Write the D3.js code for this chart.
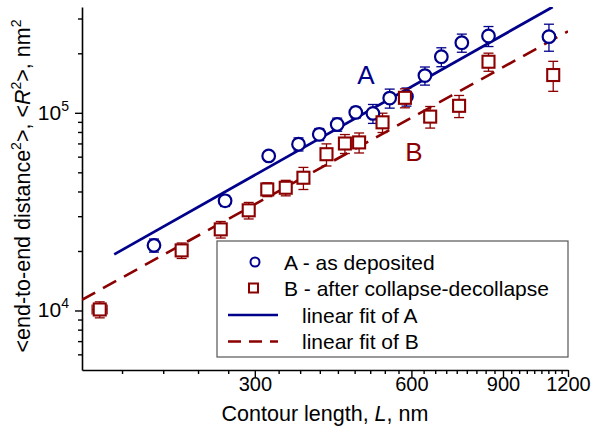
<!DOCTYPE html>
<html>
<head>
<meta charset="utf-8">
<script src="https://cdn.jsdelivr.net/npm/d3@7"></script>
<style>
body { margin: 0; background: #fff; }
text { font-family: "Liberation Sans", Arial, sans-serif; }
</style>
</head>
<body>
<svg id="chart" width="595" height="441"></svg>
<script>
// series A - as deposited
var lengthA = [192, 263, 319, 364, 399, 432, 469, 506, 545, 587, 637, 685, 750, 844, 1103];
var r2A     = [21360, 35890, 60540, 69390, 77830, 87340, 100470, 99300, 118700, 120800, 154300, 192200, 226300, 244800, 242800];
var errA    = [1620, 2300, 2120, 5270, 5450, 6640, 6430, 10900, 13100, 12700, 16200, 21100, 23800, 28400, 37900];

// series B - after collapse-decollapse
var lengthB = [151, 217, 258, 292, 317, 344, 372, 412, 447, 476, 528, 583, 652, 741, 844, 1124];
var r2B     = [10120, 20140, 25730, 32120, 40960, 41780, 46940, 61740, 69950, 70850, 89530, 119100, 95660, 108500, 181300, 155300];
var errB    = [940, 1810, 2470, 3080, 3280, 3760, 6010, 7900, 7690, 8220, 10030, 13100, 11960, 13890, 19040, 26870];
var xErrB   = [5, 0, 0, 0, 0, 0, 0, 0, 0, 0, 0, 0, 0, 0, 0, 0];

// linear fits (log-log) end points
var fitAx = [161, 1121];
var fitAy = [19230, 343000];
var fitBx = [139.6, 1200];
var fitBy = [11330, 258500];

var xTicks = [300, 600, 900, 1200];
var yTicks = [1e4, 1e5];

var navy = "#00008b", darkRed = "#8b0000";

var margin = { top: 7, right: 27, bottom: 71, left: 82 };
var svg = d3.select("#chart");
var w = 595 - margin.left - margin.right,
    h = 441 - margin.top - margin.bottom;

var x = d3.scaleLog().domain([139.6, 1200]).range([0, w]);
var y = d3.scaleLog().domain([5000, 343000]).range([h, 0]);

var g = svg.append("g").attr("transform", "translate(" + margin.left + "," + margin.top + ")");

svg.append("defs").append("clipPath").attr("id", "clip")
    .append("rect").attr("width", w).attr("height", h);

// minor tick positions
var xMinor = d3.range(166.67, 1200, 33.333).filter(function (v) {
    return Math.abs(v / 300 - Math.round(v / 300)) > 0.01;
});
var yMinor = [6e3, 7e3, 8e3, 9e3, 2e4, 3e4, 4e4, 5e4, 6e4, 7e4, 8e4, 9e4, 2e5, 3e5];

// axes
g.append("g").attr("transform", "translate(0," + h + ")")
    .call(d3.axisBottom(x).tickValues(xMinor).tickSize(4).tickFormat(""))
    .call(function (a) { a.select(".domain").remove(); });
var xa = g.append("g").attr("transform", "translate(0," + h + ")")
    .call(d3.axisBottom(x).tickValues(xTicks).tickSize(7).tickSizeOuter(0).tickFormat(d3.format("d")));
xa.selectAll("text").attr("font-size", "20px").attr("fill", "#000").attr("dy", "0.55em")
    .style("font-family", "'Liberation Sans', Arial, sans-serif");

g.append("g")
    .call(d3.axisLeft(y).tickValues(yMinor).tickSize(4).tickFormat(""))
    .call(function (a) { a.select(".domain").remove(); });
var ya = g.append("g")
    .call(d3.axisLeft(y).tickValues(yTicks).tickSize(7).tickSizeOuter(0).tickFormat(""));

g.selectAll(".tick line").attr("stroke", "#000").attr("stroke-width", 1.4);
g.selectAll(".domain").attr("stroke", "#000").attr("stroke-width", 1.6);

// y tick labels as 10 with superscript
yTicks.forEach(function (t) {
    var lab = g.append("text").attr("x", -13).attr("y", y(t) + 7)
        .attr("text-anchor", "end").attr("font-size", "21px");
    lab.append("tspan").text("10");
    lab.append("tspan").attr("dy", -9).attr("font-size", "14px").text(Math.round(Math.log10(t)));
});

// fit lines
var lineGen = d3.line().x(function (d) { return x(d[0]); }).y(function (d) { return y(d[1]); });
var plot = g.append("g").attr("clip-path", "url(#clip)");

plot.append("path").datum(d3.zip(fitAx, fitAy)).attr("d", lineGen)
    .attr("fill", "none").attr("stroke", navy).attr("stroke-width", 2.8);
plot.append("path").datum(d3.zip(fitBx, fitBy)).attr("d", lineGen)
    .attr("fill", "none").attr("stroke", darkRed).attr("stroke-width", 2.6)
    .attr("stroke-dasharray", "15,9");

// error bars
function errorBars(xs, ys, es, color) {
    var eb = g.append("g").attr("stroke", color).attr("stroke-width", 1.3);
    xs.forEach(function (xv, i) {
        var px = x(xv), top = y(ys[i] + es[i]), bot = y(ys[i] - es[i]);
        eb.append("line").attr("x1", px).attr("x2", px).attr("y1", top).attr("y2", bot);
        eb.append("line").attr("x1", px - 5).attr("x2", px + 5).attr("y1", top).attr("y2", top);
        eb.append("line").attr("x1", px - 5).attr("x2", px + 5).attr("y1", bot).attr("y2", bot);
    });
}
errorBars(lengthA, r2A, errA, navy);
errorBars(lengthB, r2B, errB, darkRed);

// horizontal error bars for B
var hb = g.append("g").attr("stroke", darkRed).attr("stroke-width", 1.3);
xErrB.forEach(function (e, i) {
    if (!e) return;
    var py = y(r2B[i]), l = x(lengthB[i] - e), r = x(lengthB[i] + e);
    hb.append("line").attr("x1", l).attr("x2", r).attr("y1", py).attr("y2", py);
    hb.append("line").attr("x1", l).attr("x2", l).attr("y1", py - 5).attr("y2", py + 5);
    hb.append("line").attr("x1", r).attr("x2", r).attr("y1", py - 5).attr("y2", py + 5);
});

// markers
g.selectAll("circle.a").data(d3.zip(lengthA, r2A)).enter().append("circle")
    .attr("cx", function (d) { return x(d[0]); })
    .attr("cy", function (d) { return y(d[1]); })
    .attr("r", 6.3).attr("fill", "#fff").attr("stroke", navy).attr("stroke-width", 2.2);

g.selectAll("rect.b").data(d3.zip(lengthB, r2B)).enter().append("rect")
    .attr("x", function (d) { return x(d[0]) - 6; })
    .attr("y", function (d) { return y(d[1]) - 6; })
    .attr("width", 12).attr("height", 12)
    .attr("fill", "#fff").attr("stroke", darkRed).attr("stroke-width", 2.1);

// series labels
svg.append("text").attr("x", 366).attr("y", 84).attr("text-anchor", "middle")
    .attr("font-size", "26px").attr("fill", navy).text("A");
svg.append("text").attr("x", 414).attr("y", 161).attr("text-anchor", "middle")
    .attr("font-size", "26px").attr("fill", darkRed).text("B");

// legend
var leg = svg.append("g");
leg.append("rect").attr("x", 217).attr("y", 241).attr("width", 351).attr("height", 116)
    .attr("fill", "#fff").attr("stroke", "#555").attr("stroke-width", 1.2);
var rows = [
    { label: "A - as deposited", type: "circle", tx: 284 },
    { label: "B - after collapse-decollapse", type: "square", tx: 284 },
    { label: "linear fit of A", type: "solid", tx: 302 },
    { label: "linear fit of B", type: "dash", tx: 302 }
];
rows.forEach(function (r, i) {
    var cy = 262 + i * 26.5;
    if (r.type === "circle") {
        leg.append("circle").attr("cx", 255).attr("cy", cy).attr("r", 4.5)
            .attr("fill", "#fff").attr("stroke", navy).attr("stroke-width", 2);
    } else if (r.type === "square") {
        leg.append("rect").attr("x", 249).attr("y", cy - 5).attr("width", 9).attr("height", 9)
            .attr("fill", "#fff").attr("stroke", darkRed).attr("stroke-width", 2);
    } else {
        leg.append("line").attr("x1", 228).attr("x2", 278).attr("y1", cy).attr("y2", cy)
            .attr("stroke", r.type === "solid" ? navy : darkRed).attr("stroke-width", 2.6)
            .attr("stroke-dasharray", r.type === "dash" ? "13,8" : null);
    }
    leg.append("text").attr("x", r.tx).attr("y", cy + 7.5).attr("font-size", "21px").text(r.label);
});

// axis titles
var xt = svg.append("text").attr("x", 325).attr("y", 421).attr("text-anchor", "middle").attr("font-size", "21.5px");
xt.append("tspan").text("Contour length, ");
xt.append("tspan").attr("font-style", "italic").text("L");
xt.append("tspan").text(", nm");

var yt = svg.append("text").attr("transform", "translate(30,186) rotate(-90)")
    .attr("text-anchor", "middle").attr("font-size", "21.5px");
yt.append("tspan").text("<end-to-end distance");
yt.append("tspan").attr("dy", -9).attr("font-size", "14px").text("2");
yt.append("tspan").attr("dy", 9).text(">, <");
yt.append("tspan").attr("font-style", "italic").text("R");
yt.append("tspan").attr("dy", -9).attr("font-size", "14px").text("2");
yt.append("tspan").attr("dy", 9).text(">, nm");
yt.append("tspan").attr("dy", -9).attr("font-size", "14px").text("2");
</script>
</body>
</html>
